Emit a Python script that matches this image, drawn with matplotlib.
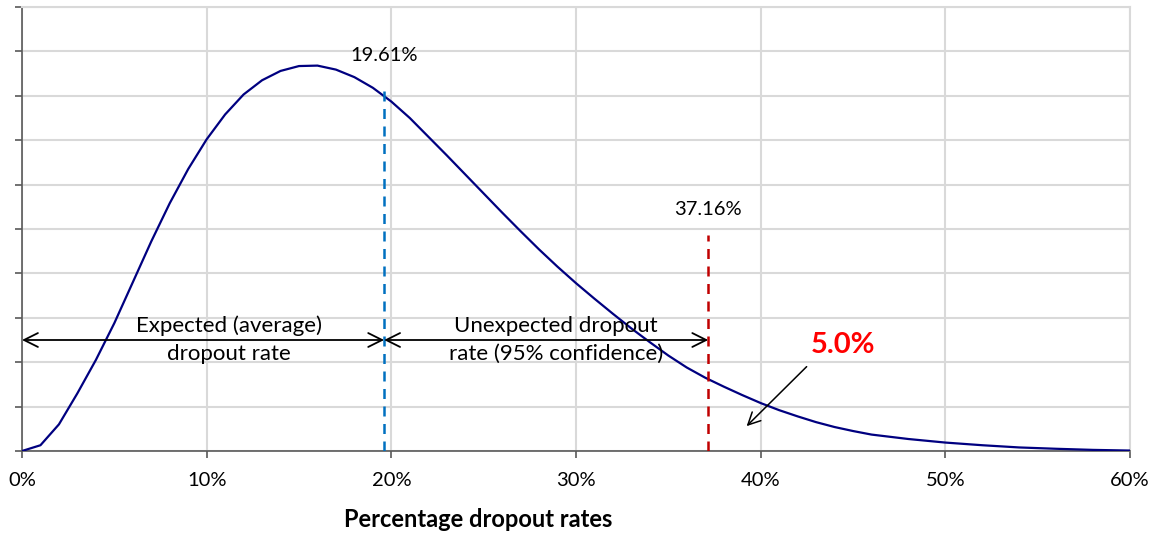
import numpy as np
import matplotlib.pyplot as plt

# dropout rate (%) and density (arbitrary units)
rate = [0, 1, 2, 3, 4, 5, 6, 7, 8, 9, 10, 11, 12, 13, 14, 15, 16, 17, 18, 19,
        20, 21, 22, 23, 24, 25, 26, 27, 28, 29, 30, 31, 32, 33, 34, 35, 36, 37,
        38, 39, 40, 41, 42, 43, 44, 45, 46, 48, 50, 52, 54, 56, 58, 60]
density = [0.0, 0.13, 0.6, 1.3, 2.05, 2.88, 3.8, 4.72, 5.58, 6.35, 7.02, 7.58,
           8.03, 8.35, 8.56, 8.67, 8.68, 8.59, 8.42, 8.18, 7.87, 7.5, 7.08,
           6.66, 6.23, 5.8, 5.37, 4.95, 4.54, 4.15, 3.78, 3.43, 3.09, 2.76,
           2.45, 2.15, 1.88, 1.65, 1.45, 1.26, 1.08, 0.92, 0.78, 0.65, 0.54,
           0.45, 0.37, 0.27, 0.19, 0.13, 0.08, 0.05, 0.025, 0.01]

expected = 19.61
var95 = 37.16
tail_label = '5.0%'
xticks = [0, 10, 20, 30, 40, 50, 60]

plt.rcParams['font.family'] = ['Lato', 'DejaVu Sans']

fig = plt.figure(figsize=(11.56, 5.35), dpi=100)
ax = fig.add_axes([22/1156, 84/535, 1108/1156, 444/535])

ax.set_xlim(0, 60)
ax.set_ylim(0, 10)
ax.set_xticks(xticks)
ax.set_xticklabels(['{}%'.format(t) for t in xticks], fontsize=14.5)
ax.set_yticks(np.arange(0, 11, 1))
ax.set_yticklabels([])
ax.grid(True, color='#d9d9d9', linewidth=1.5)
ax.set_axisbelow(True)
for s in ['top', 'right']:
    ax.spines[s].set_color('#d9d9d9')
    ax.spines[s].set_linewidth(1.5)
for s in ['left', 'bottom']:
    ax.spines[s].set_color('#595959')
    ax.spines[s].set_linewidth(1.2)
ax.tick_params(axis='both', direction='out', length=5, width=1.2, color='#595959')
ax.tick_params(axis='x', pad=10)

ax.plot(rate, density, color='#000080', linewidth=1.6, zorder=3)

ax.plot([expected, expected], [0, 8.24], color='#0070C0', linestyle=(0, (4, 3)), linewidth=1.8, zorder=4)
ax.plot([var95, var95], [0, 4.86], color='#C00000', linestyle=(0, (4, 3)), linewidth=1.8, zorder=4)
ax.text(expected, 8.9, '{:.2f}%'.format(expected), ha='center', va='center', fontsize=14.5)
ax.text(var95, 5.45, '{:.2f}%'.format(var95), ha='center', va='center', fontsize=14.5)

arrow = dict(arrowstyle='<->', color='black', lw=1.3, mutation_scale=25, shrinkA=0, shrinkB=0)
ax.annotate('', xy=(0, 2.5), xytext=(expected, 2.5), arrowprops=arrow, zorder=5)
ax.annotate('', xy=(expected, 2.5), xytext=(var95, 2.5), arrowprops=arrow, zorder=5)
ax.text(11.2, 2.5, 'Expected (average)\ndropout rate', ha='center', va='center',
        fontsize=16, linespacing=1.5, zorder=6)
ax.text(28.9, 2.5, 'Unexpected dropout\nrate (95% confidence)', ha='center', va='center',
        fontsize=16, linespacing=1.5, zorder=6)

ax.text(44.45, 2.39, tail_label, color='#FF0000', fontsize=21, fontweight='bold',
        ha='center', va='center')
ax.annotate('', xy=(39.24, 0.56), xytext=(42.49, 1.9),
            arrowprops=dict(arrowstyle='->', color='black', lw=1.1, mutation_scale=22,
                            shrinkA=0, shrinkB=0))

ax.set_xlabel('Percentage dropout rates', fontsize=17, fontweight='bold')
ax.xaxis.set_label_coords(0.4116, -0.128)

fig.savefig('out.png', dpi=100)
